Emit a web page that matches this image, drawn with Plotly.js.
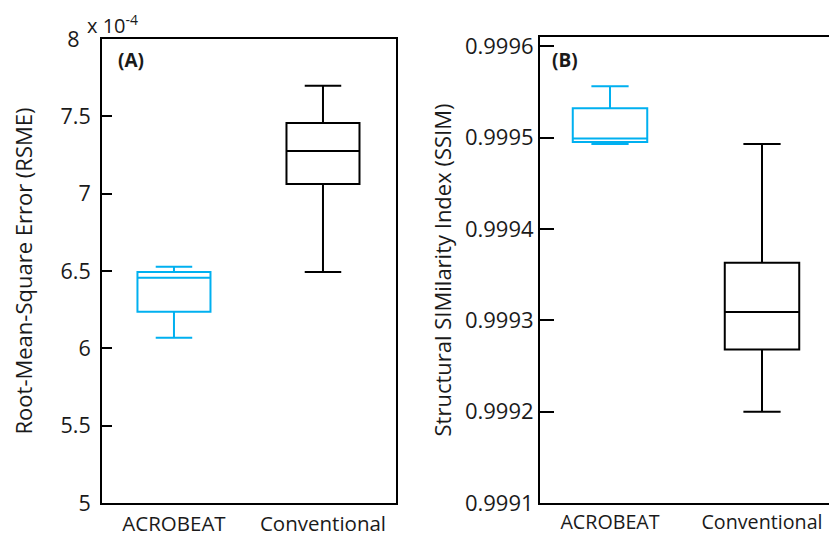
<!DOCTYPE html>
<html>
<head>
<meta charset="utf-8">
<script src="https://cdn.plot.ly/plotly-3.0.1.min.js"></script>
<style>html,body{margin:0;padding:0;background:#fff;}#chart{width:829px;height:536px;}</style>
</head>
<body>
<div id="chart"></div>
<script>
// Categories
var categories = ['ACROBEAT', 'Conventional'];

// Panel A: RMSE (values in units of 1e-4)
var rmseLower  = [6.069, 6.494];
var rmseQ1     = [6.237, 7.063];
var rmseMedian = [6.457, 7.276];
var rmseQ3     = [6.494, 7.457];
var rmseUpper  = [6.528, 7.698];
var rmseTickVals = [5, 5.5, 6, 6.5, 7, 7.5, 8];
var rmseTickText = ['5', '5.5', '6', '6.5', '7', '7.5', '8&nbsp;&nbsp;'];

// Panel B: SSIM
var ssimLower  = [0.999493, 0.9992];
var ssimQ1     = [0.999495, 0.999268];
var ssimMedian = [0.999499, 0.999309];
var ssimQ3     = [0.999532, 0.999363];
var ssimUpper  = [0.999556, 0.999493];
var ssimTickVals = [0.9991, 0.9992, 0.9993, 0.9994, 0.9995, 0.9996];
var ssimTickText = ['0.9991', '0.9992', '0.9993', '0.9994', '0.9995', '0.9996'];

var colors = ['#00B0F0', '#000000'];
var FONT = '"Open Sans", "Noto Sans", sans-serif';

var traces = [];
for (var i = 0; i < categories.length; i++) {
  traces.push({
    type: 'box', name: categories[i], x: [categories[i]],
    q1: [rmseQ1[i]], median: [rmseMedian[i]], q3: [rmseQ3[i]],
    lowerfence: [rmseLower[i]], upperfence: [rmseUpper[i]],
    xaxis: 'x', yaxis: 'y', width: 0.49, whiskerwidth: 0.5,
    line: {color: colors[i], width: 2}, fillcolor: 'rgba(255,255,255,0)',
    boxpoints: false, showlegend: false, hoverinfo: 'skip'
  });
  traces.push({
    type: 'box', name: categories[i], x: [categories[i]],
    q1: [ssimQ1[i]], median: [ssimMedian[i]], q3: [ssimQ3[i]],
    lowerfence: [ssimLower[i]], upperfence: [ssimUpper[i]],
    xaxis: 'x2', yaxis: 'y2', width: 0.49, whiskerwidth: 0.5,
    line: {color: colors[i], width: 2}, fillcolor: 'rgba(255,255,255,0)',
    boxpoints: false, showlegend: false, hoverinfo: 'skip'
  });
}

var layout = {
  width: 829, height: 536,
  margin: {l: 102, r: 0, t: 37, b: 33},
  paper_bgcolor: '#fff', plot_bgcolor: '#fff',
  font: {family: FONT, color: '#1a1a1a', size: 20},
  showlegend: false,
  boxmode: 'overlay',
  xaxis: {
    domain: [0, 0.4044], range: [-0.483, 1.49], type: 'category',
    categoryorder: 'array', categoryarray: categories,
    showline: true, mirror: true, linewidth: 2, linecolor: '#000',
    ticks: '', showgrid: false, zeroline: false, ticklabelstandoff: 1,
    tickfont: {size: 20.5, family: FONT}
  },
  yaxis: {
    domain: [0, 0.9957], range: [5, 8],
    tickvals: rmseTickVals, ticktext: rmseTickText,
    showline: true, mirror: true, linewidth: 2, linecolor: '#000',
    ticks: 'inside', ticklen: 10, tickwidth: 2, tickcolor: '#000',
    showgrid: false, zeroline: false, ticklabelstandoff: 5,
    tickfont: {size: 21.5, family: FONT},
    title: {text: 'Root-Mean-Square Error (RSME)', font: {size: 22, family: FONT}, standoff: 22}
  },
  xaxis2: {
    domain: [0.6025, 1], range: [-0.4605, 1.4408], type: 'category', anchor: 'y2',
    categoryorder: 'array', categoryarray: categories,
    showline: true, mirror: true, linewidth: 2, linecolor: '#000',
    ticks: '', showgrid: false, zeroline: false,
    tickfont: {size: 19.7, family: FONT}
  },
  yaxis2: {
    domain: [0, 1], range: [0.9991, 0.99961], anchor: 'x2',
    tickvals: ssimTickVals, ticktext: ssimTickText,
    showline: true, mirror: false, linewidth: 2, linecolor: '#000',
    ticks: 'inside', ticklen: 14, tickwidth: 2, tickcolor: '#000',
    showgrid: false, zeroline: false,
    tickfont: {size: 22, family: FONT},
    title: {text: 'Structural SIMilarity Index (SSIM)', font: {size: 22, family: FONT}, standoff: 7}
  },
  annotations: [
    {xref: 'paper', yref: 'paper', x: -0.0234, y: 1.0258, xanchor: 'left', yanchor: 'middle',
     text: 'x 10<sup>-4</sup>', showarrow: false, font: {size: 20, family: FONT, color: '#1a1a1a'}},
    {xref: 'paper', yref: 'paper', x: 0.0193, y: 0.9506, xanchor: 'left', yanchor: 'middle',
     text: '<b>(A)</b>', showarrow: false, font: {size: 19, family: FONT, color: '#1a1a1a'}},
    {xref: 'paper', yref: 'paper', x: 0.6162, y: 0.9506, xanchor: 'left', yanchor: 'middle',
     text: '<b>(B)</b>', showarrow: false, font: {size: 19, family: FONT, color: '#1a1a1a'}}
  ]
};

Plotly.newPlot('chart', traces, layout, {staticPlot: true, displayModeBar: false});
</script>
</body>
</html>
